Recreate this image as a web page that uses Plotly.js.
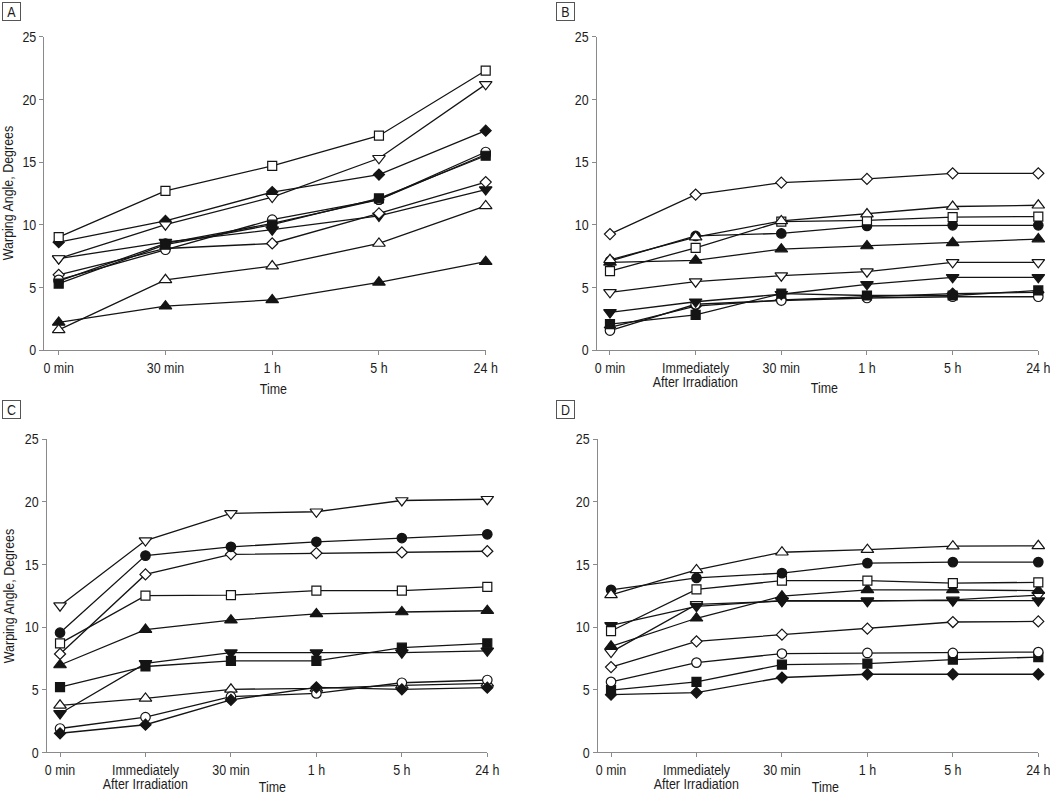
<!DOCTYPE html>
<html>
<head>
<meta charset="utf-8">
<script src="https://cdn.plot.ly/plotly-3.0.1.min.js"></script>
<style>html,body{margin:0;padding:0;background:#fff;}#chart{width:1050px;height:795px;}</style>
</head>
<body>
<div id="chart"></div>
<script>
// ---- Tick labels / categories ----
const timesA = ['0 min', '30 min', '1 h', '5 h', '24 h'];
const timesBCD = ['0 min', 'Immediately After Irradiation', '30 min', '1 h', '5 h', '24 h'];

// ---- Panel A values (degrees) ----
const A_openSquare   = [9.0, 12.7, 14.7, 17.1, 22.3];
const A_openDown     = [7.3, 10.0, 12.2, 15.3, 21.2];
const A_filledDiamond= [8.6, 10.3, 12.6, 14.0, 17.5];
const A_openCircle   = [5.6, 8.0, 10.4, 12.0, 15.8];
const A_filledCircle = [5.5, 8.5, 10.1, 12.0, 15.6];
const A_filledSquare = [5.3, 8.4, 10.0, 12.1, 15.5];
const A_openDiamond  = [6.0, 8.1, 8.5, 10.9, 13.4];
const A_filledDown   = [7.3, 8.6, 9.6, 10.7, 12.8];
const A_openUp       = [1.6, 5.6, 6.7, 8.5, 11.5];
const A_filledUp     = [2.2, 3.5, 4.0, 5.4, 7.05];

// ---- Panel B values ----
const B_openDiamond  = [9.25, 12.4, 13.35, 13.65, 14.1, 14.1];
const B_openUp       = [7.2, 9.0, 10.3, 10.85, 11.45, 11.55];
const B_openSquare   = [6.3, 8.15, 10.25, 10.35, 10.6, 10.65];
const B_filledCircle = [7.1, 9.1, 9.3, 9.9, 9.95, 9.95];
const B_filledUp     = [7.0, 7.15, 8.05, 8.3, 8.55, 8.85];
const B_openDown     = [4.6, 5.45, 5.93, 6.25, 7.0, 7.0];
const B_filledDown   = [3.0, 3.85, 4.45, 5.24, 5.8, 5.8];
const B_filledSquare = [2.07, 2.8, 4.5, 4.35, 4.35, 4.75];
const B_openCircle   = [1.55, 3.65, 3.95, 4.15, 4.25, 4.25];
const B_filledDiamond= [1.8, 3.5, 4.0, 4.25, 4.5, 4.6];

// ---- Panel C values ----
const C_openDown     = [11.7, 16.9, 19.07, 19.2, 20.1, 20.2];
const C_filledCircle = [9.55, 15.7, 16.4, 16.8, 17.1, 17.4];
const C_openDiamond  = [7.85, 14.2, 15.8, 15.9, 15.95, 16.05];
const C_openSquare   = [8.7, 12.5, 12.55, 12.9, 12.9, 13.2];
const C_filledUp     = [6.97, 9.8, 10.55, 11.05, 11.2, 11.3];
const C_filledDown   = [3.1, 7.1, 7.95, 7.95, 7.95, 8.1];
const C_filledSquare = [5.2, 6.85, 7.3, 7.3, 8.35, 8.7];
const C_openUp       = [3.75, 4.3, 5.03, 5.1, 5.35, 5.5];
const C_openCircle   = [1.9, 2.8, 4.44, 4.7, 5.55, 5.77];
const C_filledDiamond= [1.52, 2.2, 4.18, 5.19, 5.03, 5.16];

// ---- Panel D values ----
const D_openUp       = [12.57, 14.56, 15.97, 16.17, 16.45, 16.48];
const D_filledCircle = [12.97, 13.92, 14.3, 15.1, 15.18, 15.18];
const D_openSquare   = [9.68, 13.0, 13.7, 13.7, 13.5, 13.57];
const D_filledUp     = [8.46, 10.7, 12.46, 12.97, 12.97, 12.9];
const D_openDown     = [8.0, 11.8, 12.06, 12.06, 12.17, 12.55];
const D_filledDown   = [10.13, 11.65, 12.1, 12.1, 12.1, 12.1];
const D_openDiamond  = [6.8, 8.86, 9.39, 9.87, 10.4, 10.45];
const D_openCircle   = [5.62, 7.16, 7.88, 7.93, 7.93, 8.0];
const D_filledSquare = [4.96, 5.62, 7.0, 7.08, 7.4, 7.6];
const D_filledDiamond= [4.6, 4.77, 5.97, 6.23, 6.23, 6.23];

// ---- Font choice: a narrow face if one is installed, otherwise squeeze Liberation Sans ----
function fontAvailable(name) {
  const c = document.createElement('canvas').getContext('2d');
  const s = 'Immediately After Irradiation 0123456789';
  c.font = '40px monospace'; const w1 = c.measureText(s).width;
  c.font = '40px "' + name + '", monospace'; const w2 = c.measureText(s).width;
  return Math.abs(w1 - w2) > 0.5;
}
let FONT = "'Liberation Sans', Arial, sans-serif";
let SQUEEZE = 0.83;
for (const f of ['Liberation Sans Narrow', 'Arial Narrow', 'Nimbus Sans Narrow']) {
  if (fontAvailable(f)) { FONT = "'" + f + "', sans-serif"; SQUEEZE = 1; break; }
}

// ---- Styles ----
const INK = '#141414';
const TXT = '#1c1c1c';
const AXIS = '#8a8a8a';
const FS = 15;
const STYLE = {
  openSquare:    {symbol: 'square',        size: 9,    fill: '#fff'},
  openCircle:    {symbol: 'circle',        size: 9.5,  fill: '#fff'},
  openDiamond:   {symbol: 'diamond',       size: 8.5,  fill: '#fff'},
  openUp:        {symbol: 'triangle-up',   size: 11,   fill: '#fff'},
  openDown:      {symbol: 'triangle-down', size: 11,   fill: '#fff'},
  filledSquare:  {symbol: 'square',        size: 9,    fill: INK},
  filledCircle:  {symbol: 'circle',        size: 9.5,  fill: INK},
  filledDiamond: {symbol: 'diamond',       size: 8.5,  fill: INK},
  filledUp:      {symbol: 'triangle-up',   size: 11,   fill: INK},
  filledDown:    {symbol: 'triangle-down', size: 11,   fill: INK}
};

const panels = [
  {id: '',  xcats: timesA,   series: {
    filledUp: A_filledUp, openUp: A_openUp, filledDown: A_filledDown, openDiamond: A_openDiamond,
    filledCircle: A_filledCircle, openCircle: A_openCircle, filledSquare: A_filledSquare,
    filledDiamond: A_filledDiamond, openDown: A_openDown, openSquare: A_openSquare}},
  {id: '2', xcats: timesBCD, series: {
    filledDiamond: B_filledDiamond, openCircle: B_openCircle, filledSquare: B_filledSquare,
    filledDown: B_filledDown, openDown: B_openDown, filledUp: B_filledUp, filledCircle: B_filledCircle,
    openSquare: B_openSquare, openUp: B_openUp, openDiamond: B_openDiamond}},
  {id: '3', xcats: timesBCD, series: {
    openUp: C_openUp, openCircle: C_openCircle, filledDiamond: C_filledDiamond, filledDown: C_filledDown,
    filledSquare: C_filledSquare, filledUp: C_filledUp, openSquare: C_openSquare, openDiamond: C_openDiamond,
    filledCircle: C_filledCircle, openDown: C_openDown}},
  {id: '4', xcats: timesBCD, series: {
    filledDiamond: D_filledDiamond, filledSquare: D_filledSquare, openCircle: D_openCircle,
    openDiamond: D_openDiamond, openDown: D_openDown, filledDown: D_filledDown, filledUp: D_filledUp,
    openSquare: D_openSquare, filledCircle: D_filledCircle, openUp: D_openUp}}
];

const traces = [];
panels.forEach(p => {
  const xa = 'x' + p.id, ya = 'y' + p.id;
  Object.keys(p.series).forEach(k => {
    traces.push({x: p.xcats, y: p.series[k], xaxis: xa, yaxis: ya, type: 'scatter', mode: 'lines',
      line: {color: INK, width: 1.3}, hoverinfo: 'skip', showlegend: false, cliponaxis: false});
  });
  Object.keys(p.series).forEach(k => {
    const s = STYLE[k];
    traces.push({x: p.xcats, y: p.series[k], xaxis: xa, yaxis: ya, type: 'scatter', mode: 'markers',
      name: k, showlegend: false, cliponaxis: false,
      marker: {symbol: s.symbol, size: s.size, color: s.fill, line: {color: INK, width: 1.2}}});
  });
});

const W = 1050, H = 795;
function xd(a, b) { return [a / W, b / W]; }
function yd(top, bottom) { return [1 - bottom / H, 1 - top / H]; }

// split "Immediately After Irradiation" into its two printed lines
function firstLine(t) { const i = t.indexOf(' After'); return i > 0 ? t.slice(0, i) : t; }
function secondLine(t) { const i = t.indexOf(' After'); return i > 0 ? t.slice(i + 1) : ''; }

function xaxisDef(dom, anchor, rng, cats) {
  return {domain: dom, anchor: anchor, type: 'category', categoryarray: cats, categoryorder: 'array',
    tickvals: cats, ticktext: cats.map(firstLine),
    range: rng, showgrid: false, zeroline: false, showline: true, linecolor: AXIS, linewidth: 1,
    ticks: 'outside', ticklen: 4, tickcolor: AXIS, tickwidth: 1,
    tickfont: {family: FONT, size: FS, color: TXT}, fixedrange: true};
}
function yaxisDef(dom, anchor) {
  return {domain: dom, anchor: anchor, range: [0, 25], tickvals: [0, 5, 10, 15, 20, 25],
    showgrid: false, zeroline: false, showline: true, linecolor: AXIS, linewidth: 1,
    ticks: 'outside', ticklen: 4, tickcolor: AXIS, tickwidth: 1,
    tickfont: {family: FONT, size: FS, color: TXT}, fixedrange: true};
}

const textFont = {family: FONT, size: FS, color: TXT};
function label(x, y, t, extra) {
  return Object.assign({xref: 'paper', yref: 'paper', x: x / W, y: 1 - y / H, text: t, showarrow: false,
    font: textFont, xanchor: 'center', yanchor: 'middle'}, extra || {});
}
function subTick(xref, cat, y) {
  return {xref: xref, yref: 'paper', x: cat, y: 1 - y / H, text: secondLine(cat), showarrow: false,
    font: textFont, xanchor: 'center', yanchor: 'middle'};
}
function box(x, y, t) {
  return {xref: 'paper', yref: 'paper', x: x / W, y: 1 - y / H, text: t, showarrow: false,
    xanchor: 'left', yanchor: 'top', width: 15, height: 15, borderpad: 1, borderwidth: 1,
    bordercolor: '#555', font: {family: FONT, size: FS, color: TXT}, align: 'center', valign: 'middle'};
}

const layout = {
  width: W, height: H, margin: {l: 0, r: 0, t: 0, b: 0},
  paper_bgcolor: '#fff', plot_bgcolor: 'rgba(0,0,0,0)', showlegend: false,
  xaxis:  xaxisDef(xd(44.3, 485.7), 'y',  [-0.135, 4], timesA),
  yaxis:  yaxisDef(yd(36.7, 350), 'x'),
  xaxis2: xaxisDef(xd(596.7, 1038.3), 'y2', [-0.155, 5], timesBCD),
  yaxis2: yaxisDef(yd(36.7, 350), 'x2'),
  xaxis3: xaxisDef(xd(46.7, 487.3), 'y3', [-0.156, 5], timesBCD),
  yaxis3: yaxisDef(yd(439.1, 752.3), 'x3'),
  xaxis4: xaxisDef(xd(597.7, 1038.3), 'y4', [-0.156, 5], timesBCD),
  yaxis4: yaxisDef(yd(439.1, 752.3), 'x4'),
  annotations: [
    label(8, 193, 'Warping Angle, Degrees', {textangle: -90}),
    label(8, 596, 'Warping Angle, Degrees', {textangle: -90}),
    label(273, 388, 'Time'),
    label(824, 387, 'Time'),
    label(272, 786, 'Time'),
    label(825, 786, 'Time'),
    subTick('x2', timesBCD[1], 381),
    subTick('x3', timesBCD[1], 783),
    subTick('x4', timesBCD[1], 783),
    box(2, 2, 'A'),
    box(556, 2, 'B'),
    box(2, 400, 'C'),
    box(556, 400, 'D')
  ]
};

Plotly.newPlot('chart', traces, layout, {displayModeBar: false, staticPlot: true}).then(gd => {
  if (SQUEEZE === 1) return;
  gd.querySelectorAll('svg text').forEach(t => {
    if (t.querySelector('tspan')) {
      t.querySelectorAll('tspan').forEach(ts => {
        const w = ts.getComputedTextLength();
        if (w > 0) { ts.setAttribute('textLength', (w * SQUEEZE).toFixed(2)); ts.setAttribute('lengthAdjust', 'spacingAndGlyphs'); }
      });
    } else {
      const w = t.getComputedTextLength();
      if (w > 0) { t.setAttribute('textLength', (w * SQUEEZE).toFixed(2)); t.setAttribute('lengthAdjust', 'spacingAndGlyphs'); }
    }
  });
});
</script>
</body>
</html>
